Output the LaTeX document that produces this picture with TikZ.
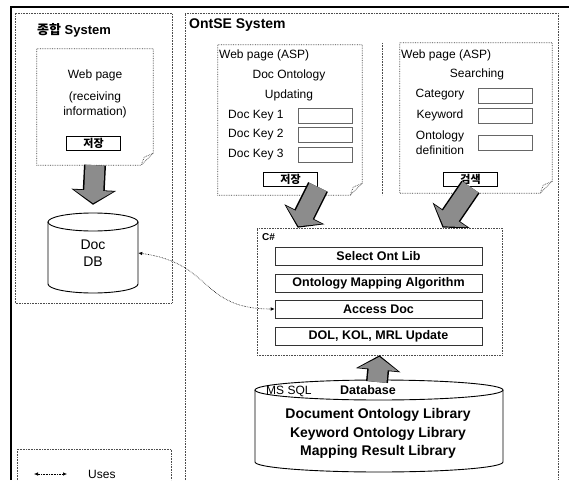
\documentclass[tikz,border=0pt]{standalone}
\usepackage{fontspec}
\setmainfont{Liberation Sans}
\newfontfamily\kr{Noto Sans CJK KR}
\usetikzlibrary{arrows.meta}
\def\drum[#1](#2:#3:#4:#5:#6){%
	\draw[#1] (#2,#4) -- (#2,#5) arc[start angle=180, end angle=360, x radius={(#3-#2)/2}, y radius=#6] -- (#3,#4);
	\draw[#1] ({(#2+#3)/2},#4) ellipse [x radius={(#3-#2)/2}, y radius=#6];}
\def\webpage(#1){%
	\draw[pageline] (#1.north west) -- (#1.north east) -- ([yshift=12pt]#1.south east) -- ([xshift=-12pt]#1.south east) -- (#1.south west) -- cycle;
	\draw[pageline] ([yshift=12pt]#1.south east) -- ([xshift=-9pt, yshift=8pt]#1.south east) -- ([xshift=-12pt]#1.south east);}
\def\fatarrow(#1)(#2){%
	\draw[line width=22pt, -{Triangle[length=15pt, width=44pt]}] (#1) -- (#2);
	\draw[line width=19pt, black!45, shorten >=1.6pt, -{Triangle[length=12.6pt, width=39pt]}] (#1) -- (#2);}
\tikzset{
	sysbox/.style={draw=black!70, densely dotted, line width=0.6pt},
	pageline/.style={draw=black!75, densely dotted, line width=0.7pt},
	holder/.style={inner sep=0pt, draw=none},
	title/.style={font=\fontsize{13}{15}\selectfont\bfseries, inner sep=0pt},
	ptext/.style={font=\fontsize{12}{15}\selectfont, inner sep=0pt, align=center},
	field/.style={draw=black!60, line width=0.6pt, minimum width=54pt, minimum height=15pt, inner sep=0pt},
	btn/.style={draw=black, line width=1pt, minimum width=54pt, minimum height=14pt, inner sep=0pt, font=\kr\bfseries\fontsize{11}{13}\selectfont},
	libbox/.style={draw=black!80, line width=0.6pt, minimum width=207pt, minimum height=18pt, inner sep=0pt, font=\fontsize{12.5}{14}\selectfont\bfseries},
	dbtext/.style={font=\fontsize{14}{18.5}\selectfont\bfseries, inner sep=0pt, align=center},
	uses/.style={densely dotted, line width=0.6pt, {Latex[length=4pt, width=3.5pt]}-{Latex[length=4pt, width=3.5pt]}}
}
\begin{document}
\begin{tikzpicture}[x=1pt, y=1pt]
	%%%%% START %%%%%
	\useasboundingbox (0,0) rectangle (569,480);
	\draw[line width=2pt] (569,473) -- (11,473) -- (11,0);

	% left system
	\draw[sysbox] (15,177) rectangle (172,467);
	\node[title, anchor=west] (ltitle) at (37,450) {{\kr 종합} System};
	\node[holder, minimum width=116pt, minimum height=116pt] (page1) at (95,373) {};
	\webpage(page1)
	\node[ptext] (wp1) at (95,405) {Web page};
	\node[ptext] (recv) at (95,375.5) {(receiving\\information)};
	\node[btn] (save1) at (93.5,336.5) {저장};

	\node[holder, minimum width=90pt, minimum height=62pt, font=\fontsize{14}{17}\selectfont, align=center] (docdb) at (93,227) {Doc\\DB};
	\drum[line width=0.9pt](48:138:258:196:9)
	\coordinate (dbtip) at ([yshift=17pt]docdb.north);
	\fatarrow(page1.south)(dbtip)

	% OntSE system
	\draw[sysbox] (185,0) -- (185,467) -- (558,467) -- (558,0);
	\node[title, font=\fontsize{14}{16}\selectfont\bfseries, anchor=west] (otitle) at (189,455) {OntSE System};

	\node[holder, minimum width=144pt, minimum height=150pt] (page2) at (290,360) {};
	\webpage(page2)
	\node[ptext, anchor=west] (wp2) at (219,425) {Web page (ASP)};
	\node[ptext] (docont) at (289,405) {Doc Ontology};
	\node[ptext] (updating) at (289,385) {Updating};
	\node[ptext, anchor=west] (key1) at (228,364) {Doc Key 1};
	\node[field] (f1) at (325,364) {};
	\node[ptext, anchor=west] (key2) at (228,345) {Doc Key 2};
	\node[field] (f2) at (325,345) {};
	\node[ptext, anchor=west] (key3) at (228,325) {Doc Key 3};
	\node[field] (f3) at (325,325) {};
	\node[btn] (save2) at (290.5,300.5) {저장};

	\draw[sysbox] (382,437) -- (382,285);

	\node[holder, minimum width=152pt, minimum height=150pt] (page3) at (476,362) {};
	\webpage(page3)
	\node[ptext, anchor=west] (wp3) at (401,425) {Web page (ASP)};
	\node[ptext] (searching) at (477,406) {Searching};
	\node[ptext] (cat) at (440,385) {Category};
	\node[field] (f4) at (505.5,384.5) {};
	\node[ptext] (kw) at (440,365) {Keyword};
	\node[field] (f5) at (505.5,364.5) {};
	\node[ptext] (ontdef) at (440,337) {Ontology\\definition};
	\node[field] (f6) at (505.5,337.5) {};
	\node[btn] (search) at (470.5,300.5) {검색};

	% C# part
	\node[sysbox, minimum width=245pt, minimum height=127pt, inner sep=0pt] (csharp) at (379.5,188.5) {};
	\node[font=\fontsize{10}{12}\selectfont\bfseries, inner sep=0pt, anchor=west] (cs) at (262,243) {C\#};
	\node[libbox] (sel) at (378.5,224) {Select Ont Lib};
	\node[libbox] (oma) at (378.5,196.5) {Ontology Mapping Algorithm};
	\node[libbox] (acc) at (378.5,171) {Access Doc};
	\node[libbox] (dolupd) at (378.5,144) {DOL, KOL, MRL Update};

	\coordinate (tipa) at ([xshift=41pt]csharp.north west);
	\coordinate (tipb) at ([xshift=186pt]csharp.north west);
	\fatarrow(save2.south east)(tipa)
	\fatarrow(search.south)(tipb)

	% database
	\node[holder, minimum width=248pt, minimum height=72pt] (db) at (379,54) {};
	\drum[line width=0.9pt](255:503:90:18:10)
	\coordinate (dbneck) at (377,98);
	\fatarrow(dbneck)(csharp.south)
	\node[ptext, anchor=west] (mssql) at (266,89) {MS SQL};
	\node[ptext, font=\fontsize{12.5}{15}\selectfont\bfseries] (dbase) at (368,89.5) {Database};
	\node[dbtext] (libs) at (378,46.5) {Document Ontology Library\\Keyword Ontology Library\\Mapping Result Library};

	\draw[uses] (docdb.east) .. controls +(75,-10) and +(-75,0) .. (acc.west);

	% legend
	\draw[sysbox] (17,0) -- (17,31) -- (171,31) -- (171,0);
	\coordinate (ua) at (34,6);
	\coordinate (ub) at (67,6);
	\draw[uses] (ua) -- (ub);
	\node[ptext, anchor=west] (uses) at (88,6) {Uses};
	%%%%% END %%%%%
\end{tikzpicture}
\end{document}
